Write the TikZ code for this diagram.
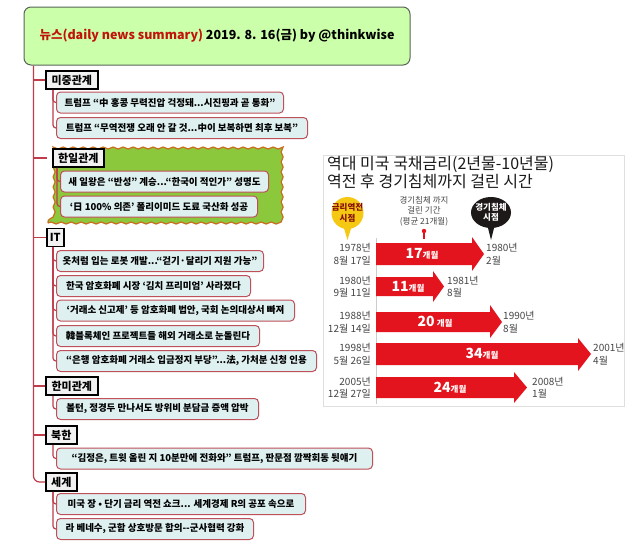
\documentclass[tikz,border=0pt]{standalone}
\usepackage{fontspec}
\setmainfont{Noto Sans CJK KR}[Ligatures=TeXOff]
\usetikzlibrary{decorations.pathmorphing}
\definecolor{titlefill}{RGB}{204,255,170}
\definecolor{titleborder}{RGB}{90,100,90}
\definecolor{titlered}{RGB}{192,20,10}
\definecolor{linecol}{RGB}{192,60,75}
\definecolor{itemfill}{RGB}{222,240,240}
\definecolor{itemborder}{RGB}{190,80,90}
\definecolor{catfill}{RGB}{242,242,242}
\definecolor{blobfill}{RGB}{140,200,60}
\definecolor{blobborder}{RGB}{200,110,30}
\definecolor{arrowred}{RGB}{228,20,30}
\definecolor{bubyellow}{RGB}{245,200,20}
\definecolor{bubblack}{RGB}{30,25,25}
\definecolor{charttext}{RGB}{70,70,70}
\tikzset{
  cat/.style={draw=black, line width=1.5pt, fill=catfill, inner sep=0pt, minimum height=18pt, anchor=west, font=\bfseries\fontsize{11}{13}\selectfont},
  item/.style={draw=itemborder, line width=1pt, fill=itemfill, rounded corners=4pt, inner sep=0pt, minimum height=21pt, anchor=west, font=\bfseries\fontsize{9.5}{11}\selectfont},
  conn/.style={draw=linecol, line width=1.2pt, rounded corners=4pt},
  startlbl/.style={anchor=east, align=right, text=charttext, font=\fontsize{10}{12.5}\selectfont, inner sep=0pt},
  endlbl/.style={anchor=west, align=left, text=charttext, font=\fontsize{10}{12.5}\selectfont, inner sep=0pt},
  arrlbl/.style={text=white, inner sep=0pt, font=\bfseries},
}
\newcommand{\bignum}[1]{{\fontsize{14}{14}\selectfont #1}}
\newcommand{\smallmo}{{\fontsize{8.5}{9}\selectfont 개월}}
\begin{document}
\begin{tikzpicture}[x=1pt,y=-1pt]
\useasboundingbox (0,0) rectangle (640,550);
\fill[white] (0,0) rectangle (640,550);

% title
\node[draw=titleborder, line width=1pt, fill=titlefill, rounded corners=7pt, minimum width=386pt, minimum height=58pt, inner sep=0pt, font=\bfseries\fontsize{12.5}{14}\selectfont] (title) at (217,36) {{\color{titlered}뉴스(daily news summary)} 2019. 8. 16(금) by @thinkwise};
\coordinate (trunk) at ([xshift=10pt]title.south west);

% 한일관계 background blob
\node[draw=blobborder, line width=1.2pt, fill=blobfill, decorate, decoration={snake, amplitude=1pt, segment length=10pt}, minimum width=229pt, minimum height=77pt, inner sep=0pt] (blob) at (162.5,184.5) {};

% categories
\node[cat, minimum width=52pt] (mj) at (45,80) {미중관계};
\node[cat, minimum width=51pt] (hi) at (52,158) {한일관계};
\node[cat, minimum width=17pt] (it) at (46,237.5) {IT};
\node[cat, minimum width=52pt] (hm) at (45,386) {한미관계};
\node[cat, minimum width=31pt] (bh) at (45,435) {북한};
\node[cat, minimum width=31pt] (sg) at (45,482) {세계};

% items
\node[item, minimum width=227pt] (mj1) at (56,102.5) {트럼프 “中 홍콩 무력진압 걱정돼...시진핑과 곧 통화”};
\node[item, minimum width=251pt] (mj2) at (56,128) {트럼프 “무역전쟁 오래 안 갈 것...中이 보복하면 최후 보복”};
\node[item, minimum width=208pt] (hi1) at (60,181.5) {새 일왕은 “반성” 계승...“한국이 적인가” 성명도};
\node[item, minimum width=197pt] (hi2) at (60,206.5) {‘日 100\% 의존’ 폴리이미드 도료 국산화 성공};
\node[item, minimum width=207pt] (it1) at (56,261) {옷처럼 입는 로봇 개발...“걷기·달리기 지원 가능”};
\node[item, minimum width=194pt] (it2) at (56,286) {한국 암호화폐 시장 ‘김치 프리미엄’ 사라졌다};
\node[item, minimum width=238pt] (it3) at (56,310.5) {‘거래소 신고제’ 등 암호화폐 법안, 국회 논의대상서 빠져};
\node[item, minimum width=203pt] (it4) at (56,336) {韓블록체인 프로젝트들 해외 거래소로 눈돌린다};
\node[item, minimum width=260pt] (it5) at (56,361) {“은행 암호화폐 거래소 입금정지 부당”...法, 가처분 신청 인용};
\node[item, minimum width=202pt] (hm1) at (56,409) {볼턴, 정경두 만나서도 방위비 분담금 증액 압박};
\node[item, minimum width=316pt] (bh1) at (56,458.5) {“김정은, 트윗 올린 지 10분만에 전화와” 트럼프, 판문점 깜짝회동 뒷얘기};
\node[item, minimum width=249pt] (sg1) at (56,504) {미국 장 • 단기 금리 역전 쇼크... 세계경제 R의 공포 속으로};
\node[item, minimum width=197pt] (sg2) at (56,529) {라 베네수, 군함 상호방문 합의--군사협력 강화};

% trunk and branches
\draw[conn, rounded corners=6pt] (trunk) |- (sg.west);
\draw[conn] (mj.west -| trunk) -- (mj.west);
\draw[conn] (hi.west -| trunk) -- (hi.west -| blob.west);
\draw[conn] (it.west -| trunk) -- (it.west);
\draw[conn] (hm.west -| trunk) -- (hm.west);
\draw[conn] (bh.west -| trunk) -- (bh.west);

% sub branches
\foreach \c/\s/\lst in {mj/8/{mj1,mj2}, hi/5/{hi1,hi2}, it/7/{it1,it2,it3,it4,it5}, hm/8/{hm1}, bh/8/{bh1}, sg/8/{sg1,sg2}}{
  \foreach \i in \lst {
    \draw[conn, rounded corners=3pt] ([xshift=\s pt]\c.south west) |- (\i.west);
  }
}

% ---------------- chart ----------------
\draw[gray!25, line width=0.6pt, fill=white] (323,155) rectangle (624,406);
\node[anchor=west, align=left, inner sep=0pt, text=black!90, font=\fontsize{16}{17.5}\selectfont] (ctitle) at (327,172.5) {역대 미국 국채금리(2년물-10년물)\\역전 후 경기침체까지 걸린 시간};

% bubbles
\fill[bubyellow] (347.5,213) ellipse (16 and 16);
\fill[bubyellow] (343,225) -- (347.5,240) -- (352,225) -- cycle;
\node[align=center, inner sep=0pt, text=titlered!70!black, font=\bfseries\fontsize{8.5}{10.5}\selectfont] (yb) at (347.5,213) {금리역전\\시점};
\fill[bubblack] (491,212.5) ellipse (20 and 15.5);
\fill[bubblack] (487,224) -- (491,240) -- (495,224) -- cycle;
\node[align=center, inner sep=0pt, text=white, font=\bfseries\fontsize{8.5}{10.5}\selectfont] (kb) at (491,212.5) {경기침체\\시점};
\node[align=center, inner sep=0pt, text=charttext, font=\fontsize{8.5}{10.5}\selectfont] (mid) at (424,211) {경기침체 까지\\걸린 기간\\(평균 21개월)};
\fill[arrowred] (424,231) circle (2.2);
\draw[arrowred, line width=1.3pt] (424,231) -- (424,239);

% axis
\draw[gray!40, line width=0.8pt] (376,238) -- (376,404);

% arrows
\fill[arrowred] (376,243) -- (472,243) -- (472,237) -- (484,254) -- (472,271) -- (472,265) -- (376,265) -- cycle;
\fill[arrowred] (376,277) -- (433,277) -- (433,271) -- (444,286.5) -- (433,302) -- (433,296) -- (376,296) -- cycle;
\fill[arrowred] (376,312) -- (490,312) -- (490,305) -- (502,322) -- (490,338) -- (490,332) -- (376,332) -- cycle;
\fill[arrowred] (376,343) -- (578,343) -- (578,338) -- (591,354) -- (578,371) -- (578,365) -- (376,365) -- cycle;
\fill[arrowred] (376,377) -- (514,377) -- (514,372) -- (527,387.5) -- (514,403) -- (514,398) -- (376,398) -- cycle;

\node[arrlbl] (l1) at (422,254) {\bignum{17}\smallmo};
\node[arrlbl] (l2) at (408,286.5) {\bignum{11}\smallmo};
\node[arrlbl] (l3) at (435,322) {\bignum{20} \smallmo};
\node[arrlbl] (l4) at (482,354) {\bignum{34}\smallmo};
\node[arrlbl] (l5) at (450,387.5) {\bignum{24}\smallmo};

\node[startlbl] (s1) at (371,254) {1978년\\8월 17일};
\node[startlbl] (s2) at (371,286.5) {1980년\\9월 11일};
\node[startlbl] (s3) at (371,322) {1988년\\12월 14일};
\node[startlbl] (s4) at (371,354) {1998년\\5월 26일};
\node[startlbl] (s5) at (371,387.5) {2005년\\12월 27일};

\node[endlbl] (e1) at (486,254) {1980년\\2월};
\node[endlbl] (e2) at (447,286.5) {1981년\\8월};
\node[endlbl] (e3) at (503,322) {1990년\\8월};
\node[endlbl] (e4) at (593,354) {2001년\\4월};
\node[endlbl] (e5) at (532,387.5) {2008년\\1월};
\end{tikzpicture}
\end{document}
